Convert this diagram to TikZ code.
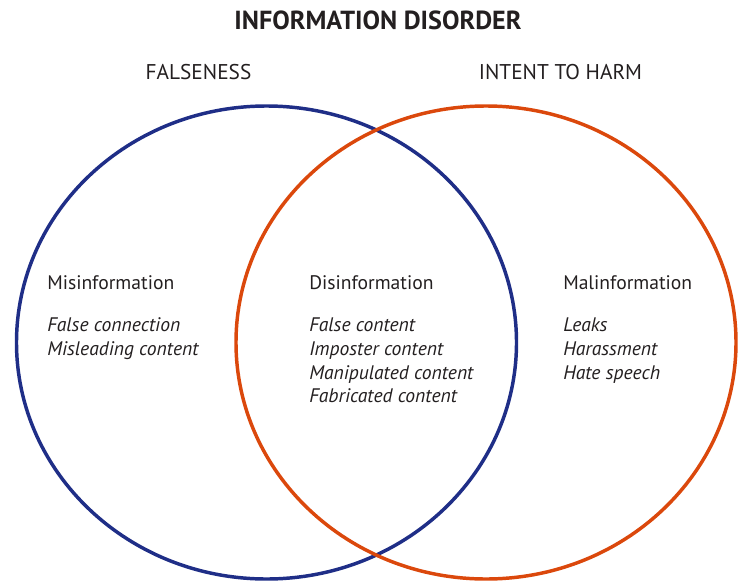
\documentclass[tikz,border=0pt]{standalone}
\usepackage{fontspec}
\setmainfont{PT Sans}
\definecolor{falseblue}{RGB}{31,46,135}
\definecolor{harmorange}{RGB}{219,72,12}
\definecolor{inktext}{RGB}{35,31,32}
\begin{document}
\begin{tikzpicture}[x=0.75pt,y=-0.75pt,
  ring/.style={line width=2.6pt},
  titletext/.style={font=\fontsize{19.6pt}{22pt}\selectfont\bfseries, text=inktext, inner sep=0pt, anchor=base},
  headtext/.style={font=\fontsize{16pt}{19pt}\selectfont, text=inktext, inner sep=0pt, anchor=base},
  grouptext/.style={font=\fontsize{14.7pt}{17.8pt}\selectfont, text=inktext, inner sep=0pt, anchor=base west},
  itemtext/.style={font=\fontsize{14.7pt}{17.8pt}\selectfont\itshape, text=inktext, inner sep=0pt, anchor=base west}]
\useasboundingbox (0,0) rectangle (743,582);
% circles
\draw[ring, draw=falseblue] (266.5,342.5) ellipse [x radius=250, y radius=236.5];
\draw[ring, draw=harmorange] (486,342.5) ellipse [x radius=250, y radius=236.5];
% titles
\node[titletext] (title) at (378,29) {INFORMATION DISORDER};
\node[headtext] (falseness) at (198.5,79) {FALSENESS};
\node[headtext] (intent) at (560.5,79) {INTENT TO HARM};
% left group
\node[grouptext] (mis) at (47,289) {Misinformation};
\node[itemtext] (mis1) at (47,331.7) {False connection};
\node[itemtext] (mis2) at (47,355.4) {Misleading content};
% middle group
\node[grouptext] (dis) at (309,289) {Disinformation};
\node[itemtext] (dis1) at (309,331.7) {False content};
\node[itemtext] (dis2) at (309,355.4) {Imposter content};
\node[itemtext] (dis3) at (309,379.1) {Manipulated content};
\node[itemtext] (dis4) at (309,402.8) {Fabricated content};
% right group
\node[grouptext] (mal) at (563,289) {Malinformation};
\node[itemtext] (mal1) at (563,331.7) {Leaks};
\node[itemtext] (mal2) at (563,355.4) {Harassment};
\node[itemtext] (mal3) at (563,379.1) {Hate speech};
\end{tikzpicture}
\end{document}
